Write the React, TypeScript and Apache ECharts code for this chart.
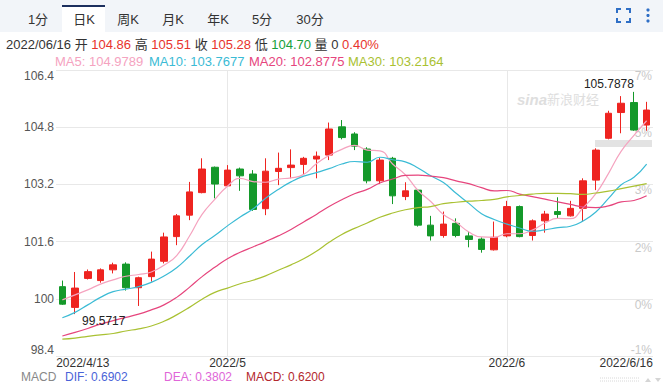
import React, { useEffect, useRef } from 'react';
import * as echarts from 'echarts';

const DATES = [
  '2022/4/13', '2022/4/14', '2022/4/15', '2022/4/18', '2022/4/19', '2022/4/20', '2022/4/21', '2022/4/22',
  '2022/4/25', '2022/4/26', '2022/4/27', '2022/4/28', '2022/4/29',
  '2022/5/2', '2022/5/3', '2022/5/4', '2022/5/5', '2022/5/6', '2022/5/9', '2022/5/10', '2022/5/11',
  '2022/5/12', '2022/5/13', '2022/5/16', '2022/5/17', '2022/5/18', '2022/5/19', '2022/5/20',
  '2022/5/23', '2022/5/24', '2022/5/25', '2022/5/26', '2022/5/27', '2022/5/30', '2022/5/31',
  '2022/6/1', '2022/6/2', '2022/6/3', '2022/6/6', '2022/6/7', '2022/6/8', '2022/6/9', '2022/6/10',
  '2022/6/13', '2022/6/14', '2022/6/15', '2022/6/16',
];

const OPEN = [100.34, 99.76, 100.57, 100.51, 100.81, 100.97, 100.31, 100.62, 101.05, 101.74, 102.34, 102.97,
  103.68, 103.16, 103.63, 103.49, 102.52, 103.56, 103.67, 103.76, 103.91, 104.02, 104.81, 104.61, 104.19,
  103.30, 103.93, 102.86, 103.04, 102.06, 101.77, 102.11, 101.76, 101.67, 101.37, 101.76, 102.58, 101.77,
  102.18, 102.44, 102.32, 102.53, 103.32, 104.49, 105.21, 105.49, 104.86];
const CLOSE = [99.85, 100.30, 100.76, 100.81, 100.95, 100.31, 100.59, 101.11, 101.73, 102.32, 102.99, 103.63,
  103.21, 103.60, 103.44, 102.50, 103.57, 103.65, 103.74, 103.93, 103.99, 104.75, 104.51, 104.27, 103.30,
  103.88, 102.88, 103.02, 102.06, 101.76, 102.09, 101.77, 101.66, 101.38, 101.72, 102.58, 101.74, 102.18,
  102.37, 102.36, 102.53, 103.30, 104.16, 105.19, 105.47, 104.72, 105.28];
const LOW = [99.83, 99.5717, 100.54, 100.45, 100.71, 100.23, 99.80, 100.48, 100.99, 101.50, 102.20, 102.95,
  102.81, 103.14, 103.02, 102.46, 102.34, 103.18, 103.37, 103.48, 103.37, 103.88, 104.46, 104.16, 103.23,
  103.21, 102.65, 102.76, 102.02, 101.63, 101.71, 101.72, 101.44, 101.29, 101.35, 101.72, 101.72, 101.63,
  101.85, 102.25, 102.30, 102.16, 103.04, 104.46, 104.63, 104.70, 104.70];
const HIGH = [100.51, 100.75, 100.82, 100.85, 101.01, 101.02, 100.62, 101.32, 101.85, 102.37, 103.27, 103.93,
  103.70, 103.74, 103.67, 103.60, 103.93, 104.09, 104.18, 103.97, 104.12, 104.93, 105.00, 104.66, 104.24,
  103.95, 103.97, 103.26, 103.06, 102.32, 102.44, 102.25, 101.88, 101.72, 102.16, 102.74, 102.61, 102.22,
  102.46, 102.84, 102.74, 103.37, 104.21, 105.26, 105.67, 105.7878, 105.51];

const MA5 = [99.97, 100.11, 100.25, 100.41, 100.53, 100.63, 100.68, 100.75, 100.94, 101.21, 101.75, 102.36,
  102.78, 103.15, 103.37, 103.28, 103.26, 103.35, 103.38, 103.48, 103.78, 104.01, 104.18, 104.29, 104.16,
  104.14, 103.77, 103.47, 103.03, 102.72, 102.36, 102.14, 101.87, 101.73, 101.72, 101.82, 101.82, 101.92,
  102.12, 102.25, 102.24, 102.55, 102.94, 103.51, 104.13, 104.57, 104.98];
const MA10 = [99.47, 99.62, 99.83, 100.04, 100.20, 100.27, 100.34, 100.46, 100.64, 100.87, 101.19, 101.52,
  101.77, 102.04, 102.29, 102.51, 102.81, 103.06, 103.27, 103.43, 103.53, 103.64, 103.77, 103.84, 103.82,
  103.96, 103.89, 103.83, 103.66, 103.44, 103.25, 102.95, 102.67, 102.38, 102.22, 102.09, 101.98, 101.89,
  101.93, 101.99, 102.03, 102.18, 102.43, 102.81, 103.19, 103.40, 103.77];
const MA20 = [98.96, 99.06, 99.17, 99.29, 99.39, 99.48, 99.57, 99.69, 99.83, 100.04, 100.32, 100.62, 100.88,
  101.12, 101.30, 101.45, 101.60, 101.76, 101.94, 102.15, 102.36, 102.58, 102.77, 102.94, 103.06, 103.24,
  103.35, 103.45, 103.46, 103.43, 103.39, 103.30, 103.22, 103.11, 103.02, 103.03, 102.93, 102.86, 102.79,
  102.71, 102.64, 102.57, 102.55, 102.60, 102.71, 102.75, 102.88];
const MA30 = [98.87, 98.90, 98.95, 98.99, 99.03, 99.10, 99.16, 99.24, 99.37, 99.55, 99.76, 99.99, 100.18,
  100.30, 100.42, 100.52, 100.64, 100.80, 100.95, 101.12, 101.33, 101.58, 101.80, 101.97, 102.12, 102.28,
  102.40, 102.49, 102.55, 102.58, 102.66, 102.70, 102.73, 102.75, 102.78, 102.85, 102.89, 102.93, 102.95,
  102.95, 102.94, 102.92, 102.96, 103.01, 103.08, 103.15, 103.22];

const X_LABELS: Record<string, string> = {
  '2022/4/13': '2022/4/13',
  '2022/5/2': '2022/5',
  '2022/6/1': '2022/6',
  '2022/6/16': '2022/6/16',
};
const Y_MIN = 98.4;
const Y_MAX = 106.4;
const Y_STEP = 1.6;
const PCT_LABELS = ['-1%', '0%', '2%', '3%', '5%', '7%'];
const TABS = ['1分', '日K', '周K', '月K', '年K', '5分', '30分'];
const MA_TEXT = ['MA5: 104.9789', 'MA10: 103.7677', 'MA20: 102.8775', 'MA30: 103.2164'];
const MACD_TEXT = ['MACD', 'DIF: 0.6902', 'DEA: 0.3802', 'MACD: 0.6200'];
const HEAD_DATE = '2022/06/16';
const HEAD_VOL = '0';
const HEAD_CHG = '0.40%';

const FONT = '"Liberation Sans", Arial, "Noto Sans CJK SC", sans-serif';
const RED = '#ee2420';
const GREEN = '#14992a';
const MA_COLORS = ['#f5a3bf', '#3bbbd5', '#e6457d', '#a9c132'];
const MACD_COLORS = ['#888888', '#4a63d8', '#e066d8', '#b3282d'];
const TAB_X = [38, 84, 128, 173, 218, 262, 310];
const MA_X = [55, 149, 249, 348];
const MACD_X = [21, 65, 164, 246];

export default function App() {
  const ref = useRef<HTMLDivElement>(null);
  useEffect(() => {
    if (!ref.current) return;
    const chart = echarts.init(ref.current, undefined, { renderer: 'svg' });
    const kData = DATES.map((_, i) => [OPEN[i], CLOSE[i], LOW[i], HIGH[i]]);
    const last = DATES.length - 1;
    const fmt = (v: number) => v.toFixed(2);

    const graphic: any[] = [
      { type: 'rect', shape: { x: 0, y: 0, width: 663, height: 32 }, style: { fill: '#f2f5f9' }, silent: true },
      { type: 'rect', shape: { x: 62, y: 5, width: 43, height: 28 }, style: { fill: '#ffffff' }, silent: true },
      { type: 'rect', shape: { x: 62, y: 5, width: 43, height: 2 }, style: { fill: '#1c2f5e' }, silent: true },
      ...TABS.map((t, i) => ({
        type: 'text',
        style: { text: t, x: TAB_X[i], y: 19, align: 'center', verticalAlign: 'middle', fontSize: 13, fill: '#333', fontFamily: FONT },
        silent: true,
      })),
      { type: 'polyline', shape: { points: [[617, 13], [617, 9], [621, 9]] }, style: { stroke: '#2f6fc6', lineWidth: 2, fill: null } },
      { type: 'polyline', shape: { points: [[626, 9], [630, 9], [630, 13]] }, style: { stroke: '#2f6fc6', lineWidth: 2, fill: null } },
      { type: 'polyline', shape: { points: [[617, 18], [617, 22], [621, 22]] }, style: { stroke: '#2f6fc6', lineWidth: 2, fill: null } },
      { type: 'polyline', shape: { points: [[626, 22], [630, 22], [630, 18]] }, style: { stroke: '#2f6fc6', lineWidth: 2, fill: null } },
      { type: 'circle', shape: { cx: 648, cy: 10, r: 1.6 }, style: { fill: '#2f6fc6' } },
      { type: 'circle', shape: { cx: 648, cy: 15.5, r: 1.6 }, style: { fill: '#2f6fc6' } },
      { type: 'circle', shape: { cx: 648, cy: 21, r: 1.6 }, style: { fill: '#2f6fc6' } },
      {
        type: 'text',
        style: {
          x: 6, y: 44, verticalAlign: 'middle', fontSize: 13, fontFamily: FONT,
          text: `{d|${HEAD_DATE} 开 }{r|${fmt(OPEN[last])}}{d| 高 }{r|${fmt(HIGH[last])}}{d| 收 }{r|${fmt(CLOSE[last])}}{d| 低 }{g|${fmt(LOW[last])}}{d| 量 ${HEAD_VOL} }{r|${HEAD_CHG}}`,
          rich: {
            d: { fill: '#333', fontSize: 13, fontFamily: FONT },
            r: { fill: '#e8332c', fontSize: 13, fontFamily: FONT },
            g: { fill: '#16a03a', fontSize: 13, fontFamily: FONT },
          },
        },
        silent: true,
      },
      ...MA_TEXT.map((t, i) => ({
        type: 'text',
        style: { text: t, x: MA_X[i], y: 61, verticalAlign: 'middle', fontSize: 13, fill: MA_COLORS[i], fontFamily: FONT },
        silent: true,
      })),
      ...MACD_TEXT.map((t, i) => ({
        type: 'text',
        style: { text: t, x: MACD_X[i], y: 376.5, verticalAlign: 'middle', fontSize: 12, fill: MACD_COLORS[i], fontFamily: FONT },
        silent: true,
      })),
      {
        type: 'text',
        style: { text: 'sina', x: 517, y: 99, verticalAlign: 'middle', fontSize: 15, fontWeight: 'bold', fontStyle: 'italic', fill: '#dedede', fontFamily: FONT },
        silent: true,
      },
      {
        type: 'text',
        style: { text: '新浪财经', x: 547, y: 99, verticalAlign: 'middle', fontSize: 13, fill: '#dedede', fontFamily: FONT },
        silent: true,
      },
      { type: 'rect', shape: { x: 595, y: 140, width: 57, height: 7 }, style: { fill: '#e3e3e3' }, silent: true },
      { type: 'line', shape: { x1: 600, y1: 378, x2: 640, y2: 378 }, style: { stroke: '#d8d8d8', lineWidth: 1, lineDash: [1, 1] }, silent: true },
      { type: 'line', shape: { x1: 600, y1: 381, x2: 640, y2: 381 }, style: { stroke: '#d8d8d8', lineWidth: 1, lineDash: [1, 1] }, silent: true },
      { type: 'polygon', shape: { points: [[645, 382], [648, 378], [651, 382]] }, style: { fill: '#d5d5d5' }, silent: true },
      { type: 'polygon', shape: { points: [[655, 378], [661, 378], [658, 382]] }, style: { fill: '#d5d5d5' }, silent: true },
    ];

    const option: any = {
      animation: false,
      backgroundColor: '#ffffff',
      textStyle: { fontFamily: FONT },
      grid: { left: 56, right: 10, top: 70, bottom: 27 },
      xAxis: {
        type: 'category',
        data: DATES,
        boundaryGap: true,
        axisLine: { show: false },
        axisTick: { show: false },
        axisLabel: {
          interval: (i: number, v: string) => X_LABELS[v] !== undefined,
          formatter: (v: string, i: number) => {
            const t = X_LABELS[v] || '';
            if (i === 0) return `{l|${t}}`;
            if (i === DATES.length - 1) return `{r|${t}}`;
            return t;
          },
          rich: {
            l: { padding: [0, 0, 0, 41], fontSize: 12, color: '#333', fontFamily: FONT },
            r: { padding: [0, 41, 0, 0], fontSize: 12, color: '#333', fontFamily: FONT },
          },
          fontSize: 12,
          color: '#333',
          margin: 1,
          fontFamily: FONT,
        },
        splitLine: {
          show: true,
          interval: (i: number, v: string) => v === '2022/5/2' || v === '2022/6/1',
          alignWithLabel: true,
          lineStyle: { color: '#e8e8e8', width: 1 },
        },
      },
      yAxis: [
        {
          type: 'value',
          min: Y_MIN,
          max: Y_MAX,
          interval: Y_STEP,
          position: 'left',
          scale: true,
          axisLine: { show: false },
          axisTick: { show: false },
          splitLine: { show: true, lineStyle: { color: '#e8e8e8', width: 1 } },
          axisLabel: {
            formatter: (v: number) => String(+v.toFixed(1)),
            color: '#555',
            fontSize: 12,
            margin: 2,
            fontFamily: FONT,
            verticalAlignMaxLabel: 'top',
            verticalAlignMinLabel: 'bottom',
          },
        },
        {
          type: 'value',
          min: Y_MIN,
          max: Y_MAX,
          interval: Y_STEP,
          position: 'right',
          scale: true,
          axisLine: { show: false },
          axisTick: { show: false },
          splitLine: { show: false },
          axisLabel: {
            inside: true,
            margin: 1,
            formatter: (v: number) => PCT_LABELS[Math.round((v - Y_MIN) / Y_STEP)] || '',
            color: '#c9c9c9',
            fontSize: 12,
            fontFamily: FONT,
            verticalAlign: 'top',
            verticalAlignMinLabel: 'bottom',
          },
        },
      ],
      series: [
        {
          type: 'candlestick',
          data: kData,
          barWidth: 7,
          silent: true,
          itemStyle: { color: RED, color0: GREEN, borderColor: RED, borderColor0: GREEN, borderWidth: 1 },
          markPoint: {
            symbol: 'circle',
            symbolSize: 1,
            itemStyle: { color: 'rgba(0,0,0,0)' },
            silent: true,
            data: [
              {
                type: 'max', valueDim: 'highest',
                label: { show: true, position: 'inside', align: 'right', verticalAlign: 'bottom', offset: [0, -2], color: '#222', fontSize: 12, fontFamily: FONT, formatter: (p: any) => String(p.value) },
              },
              {
                type: 'min', valueDim: 'lowest',
                label: { show: true, position: 'inside', align: 'left', verticalAlign: 'top', offset: [7, 1], color: '#222', fontSize: 12, fontFamily: FONT, formatter: (p: any) => String(p.value) },
              },
            ],
          },
        },
        ...[MA5, MA10, MA20, MA30].map((d, i) => ({
          type: 'line',
          data: d,
          smooth: true,
          showSymbol: false,
          symbol: 'none',
          silent: true,
          lineStyle: { width: 1.2, color: MA_COLORS[i] },
          z: 3,
        })),
      ],
      graphic,
    };
    chart.setOption(option);
    return () => chart.dispose();
  }, []);
  return <div ref={ref} style={{ position: 'absolute', left: 0, top: 0, width: 663, height: 383, background: '#fff' }} />;
}
